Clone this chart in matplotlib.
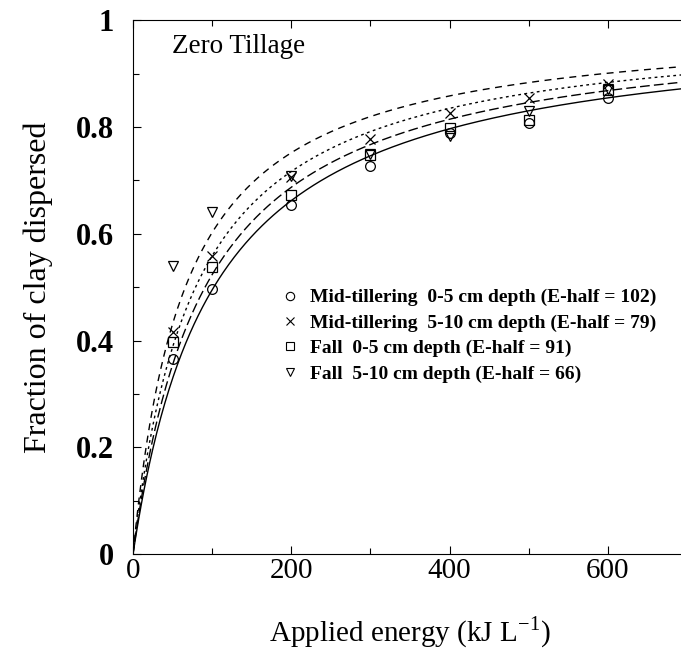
import numpy as np
import matplotlib.pyplot as plt
from matplotlib.ticker import MultipleLocator

plt.rcParams['font.family'] = ['Liberation Serif', 'DejaVu Serif']

# Measured points
energy = [50, 100, 200, 300, 400, 500, 600]
mid_0_5 = [0.365, 0.496, 0.654, 0.728, 0.788, 0.807, 0.854]
mid_5_10 = [0.416, 0.558, 0.706, 0.777, 0.826, 0.854, 0.880]
fall_0_5 = [0.397, 0.537, 0.672, 0.747, 0.798, 0.813, 0.869]
fall_5_10 = [0.539, 0.640, 0.708, 0.750, 0.783, 0.831, 0.872]

# Fitted E-half values (from legend)
ehalf = [102, 79, 91, 66]
labels = ['Mid-tillering  0-5 cm depth (E-half = 102)',
          'Mid-tillering  5-10 cm depth (E-half = 79)',
          'Fall  0-5 cm depth (E-half = 91)',
          'Fall  5-10 cm depth (E-half = 66)']
markers = ['o', 'x', 's', 'v']
linestyles = ['-', (0, (2, 2.5)), (0, (7, 3)), (0, (5, 4))]
series = [mid_0_5, mid_5_10, fall_0_5, fall_5_10]

fig = plt.figure(figsize=(6.81, 6.55), dpi=100)
ax = fig.add_axes([0.1953, 0.154, 0.8135, 0.815])

# fitted curves: F = E / (E + E-half)
e = np.linspace(0, 700, 400)
for eh, ls in zip(ehalf, linestyles):
    ax.plot(e, e / (e + eh), color='black', lw=1.0, linestyle=ls)

for vals, m in zip(series, markers):
    ax.plot(energy, vals, linestyle='none', marker=m, markersize=7,
            markerfacecolor='none', markeredgecolor='black', markeredgewidth=0.9)

ax.set_xlim(0, 700)
ax.set_ylim(0, 1)
ax.xaxis.set_minor_locator(MultipleLocator(100))
ax.yaxis.set_minor_locator(MultipleLocator(0.1))
ax.set_yticks([0, 0.2, 0.4, 0.6, 0.8, 1.0])
ax.set_yticklabels(['0', '0.2', '0.4', '0.6', '0.8', '1'], fontsize=22, fontweight='bold')
ax.set_xticks([0, 200, 400, 600])
ax.set_xticklabels(['0', '200', '400', '600'], fontsize=21)
ax.tick_params(which='both', direction='in', top=True, right=False)
ax.tick_params(axis='y', which='major', length=6, width=0.8, pad=14)
ax.tick_params(axis='x', which='major', length=6, width=0.8, pad=3)
ax.tick_params(which='minor', length=4, width=0.8)
ax.spines['right'].set_visible(False)

ax.set_xlabel('Applied energy (kJ L$^{\\mathregular{-1}}$)', fontsize=21, labelpad=22)
ax.set_ylabel('Fraction of clay dispersed', fontsize=23, labelpad=16)

ax.text(0.07, 0.975, 'Zero Tillage', transform=ax.transAxes, fontsize=19.5,
        va='top', ha='left')

handles = [plt.Line2D([], [], linestyle='none', marker=m, markersize=6,
                      markerfacecolor='none', markeredgecolor='black',
                      markeredgewidth=0.8) for m in markers]
ax.legend(handles, labels, loc='upper left', bbox_to_anchor=(0.235, 0.53),
          frameon=False, handlelength=1.0, handletextpad=0.5,
          labelspacing=0.4, prop={'weight': 'bold', 'size': 14})

fig.savefig('out.png', dpi=100)
